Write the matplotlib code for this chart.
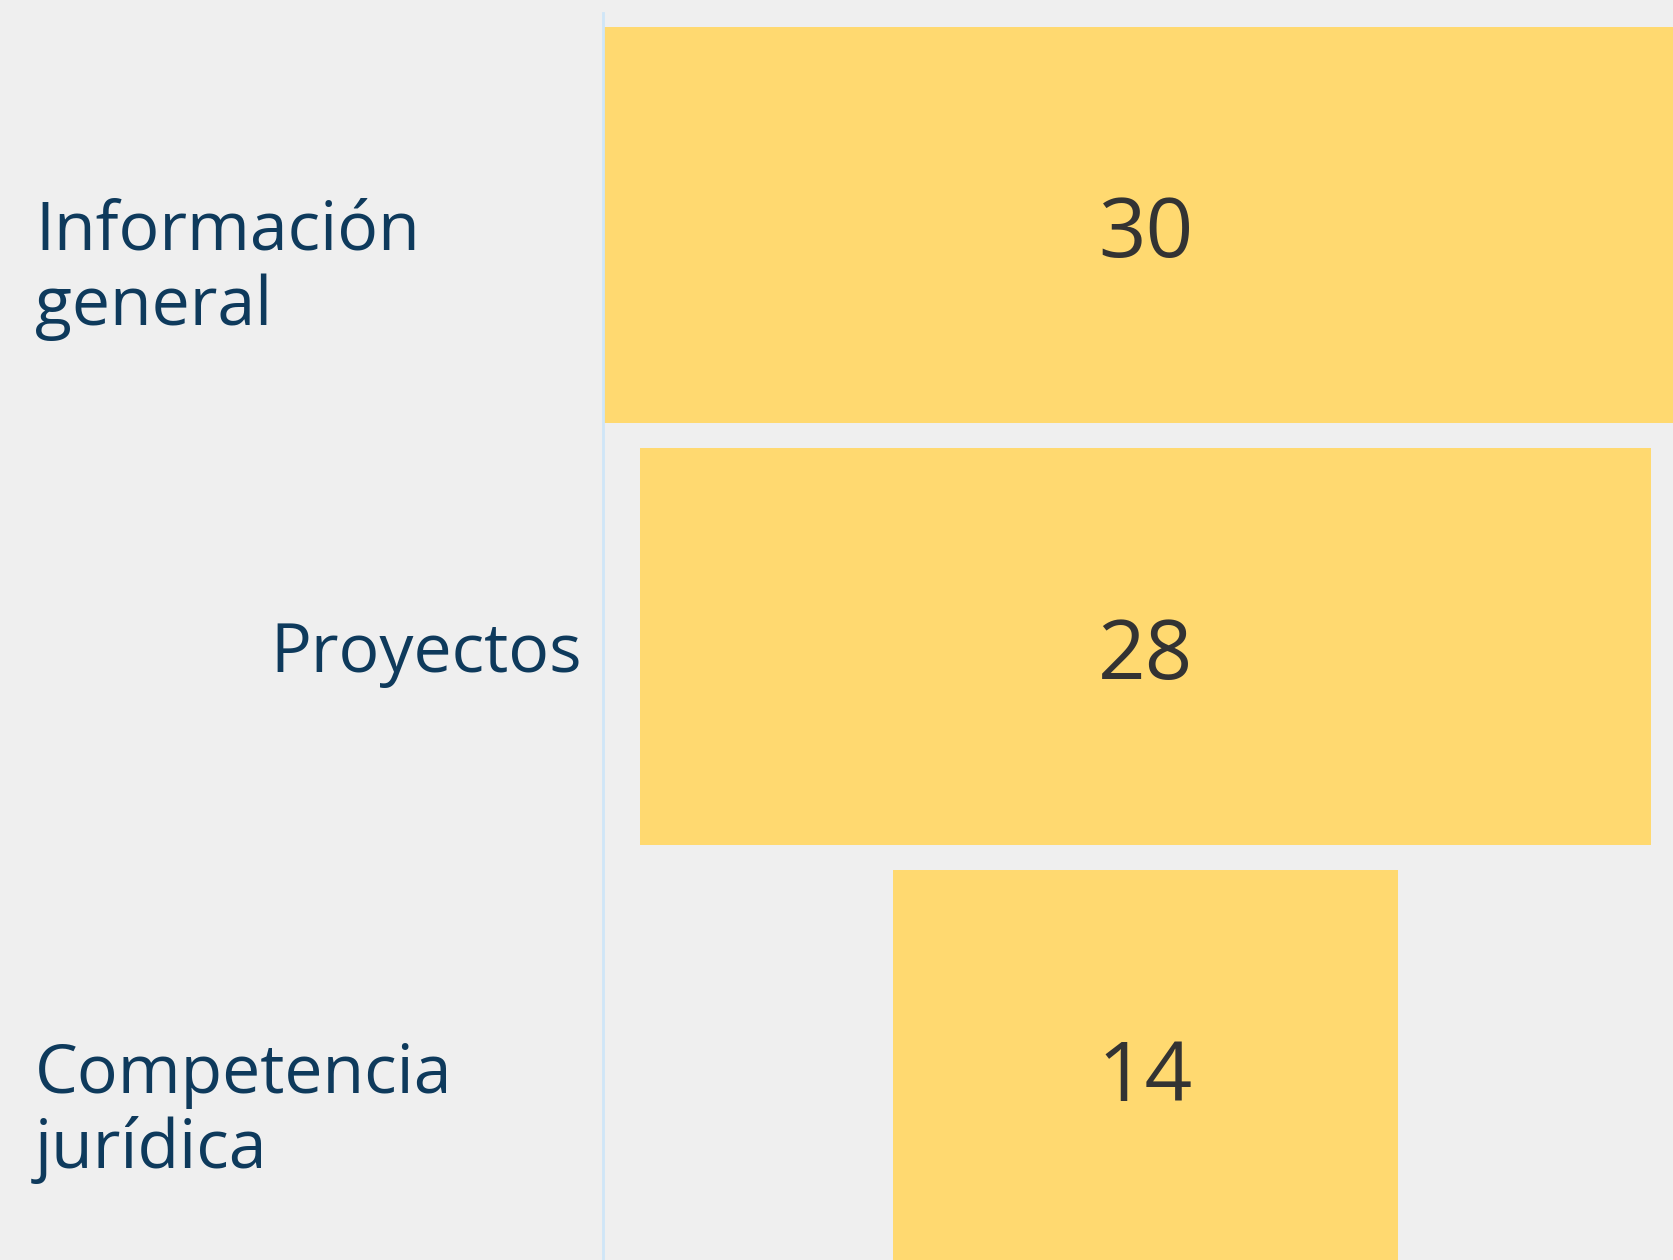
import numpy as np
import matplotlib.pyplot as plt

categories = [["Información", "general"], ["Proyectos"], ["Competencia", "jurídica"]]
values = [30, 28, 14]
label_align = ["left", "right", "left"]

bg = "#efefef"
bar_color = "#ffd970"
label_color = "#0e3a5c"
value_color = "#333333"

plt.rcParams['font.family'] = ['Open Sans', 'DejaVu Sans']

fig = plt.figure(figsize=(16.74, 12.6), dpi=100, facecolor=bg)
ax = fig.add_axes([603 / 1674, 0, 1 - 603 / 1674, 1])
ax.set_facecolor(bg)

vals = np.array(values, dtype=float)
ypos = np.arange(len(vals))
ax.barh(ypos, vals, left=-vals / 2, height=0.94, color=bar_color, zorder=2)

# numbers sit with their baseline a little under the bar centre
for y, v in zip(ypos, vals):
    ax.text(0, y + 0.077, str(int(v)), ha="center", va="baseline", fontsize=60,
            color=value_color, zorder=3)

ax.set_xlim(-15.03, 14.64)
ax.set_ylim(2.455, -0.533)

for side in ["top", "right", "bottom"]:
    ax.spines[side].set_visible(False)
ax.spines["left"].set_color("#cfe6f7")
ax.spines["left"].set_linewidth(2)
ax.spines["left"].set_bounds(-0.502, 2.455)
ax.set_xticks([])
ax.set_yticks([])

# category labels, first line centred on the bar
line_gap = 75 / 421.7
trans = plt.matplotlib.transforms.blended_transform_factory(fig.transFigure, ax.transData)
for y, lines, al in zip(ypos, categories, label_align):
    x = 35 / 1674 if al == "left" else 582 / 1674
    for i, line in enumerate(lines):
        ax.text(x, y + 0.0595 + i * line_gap, line, transform=trans, ha=al,
                va="baseline", fontsize=49, color=label_color,
                clip_on=False)

fig.savefig("out.png", dpi=100, facecolor=bg)
